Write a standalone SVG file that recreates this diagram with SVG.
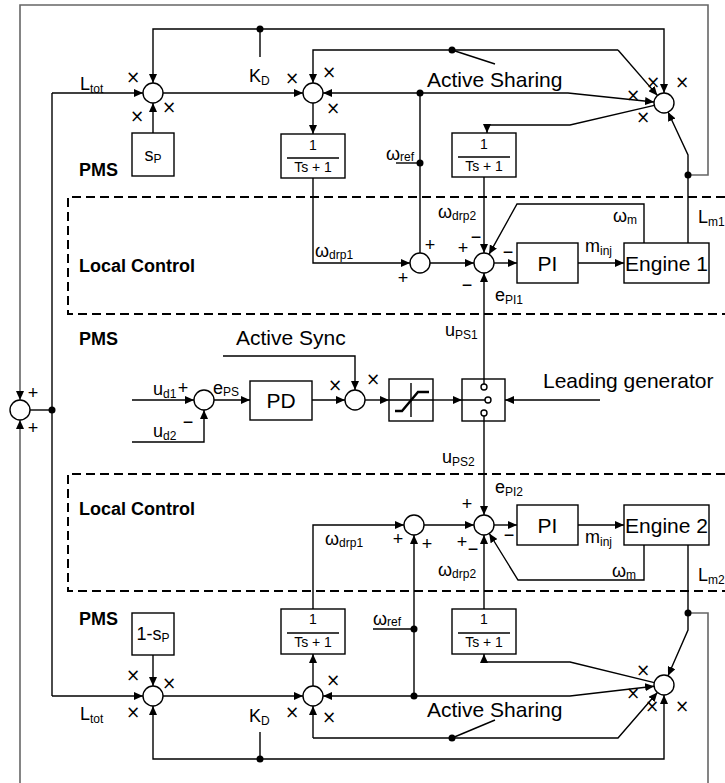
<svg xmlns="http://www.w3.org/2000/svg" width="725" height="783" viewBox="0 0 725 783">
<defs>
<marker id="ar" markerUnits="userSpaceOnUse" markerWidth="10" markerHeight="8" refX="9" refY="4" orient="auto"><path d="M0,0 L9,4 L0,8 z" fill="#000"/></marker>
<style>
.w{fill:none;stroke:#000;stroke-width:1.4}
.g{fill:none;stroke:#666;stroke-width:1.6}
.a{marker-end:url(#ar)}
.d{fill:none;stroke:#000;stroke-width:2;stroke-dasharray:9 5}
.b{fill:#fff;stroke:#000;stroke-width:1.4}
.s{fill:#fff;stroke:#000;stroke-width:1.4}
.t{font-family:"Liberation Sans",Arial,sans-serif;font-size:18px;fill:#000}
.L{font-family:"Liberation Sans",Arial,sans-serif;font-size:21px;fill:#000}
.f{font-family:"Liberation Sans",Arial,sans-serif;font-size:14px;fill:#000}
.B{font-family:"Liberation Sans",Arial,sans-serif;font-size:18px;font-weight:bold;fill:#000}
.x{font-family:"Liberation Sans",Arial,sans-serif;font-size:18px;fill:#000;text-anchor:middle}
.k{font-family:"DejaVu Sans",sans-serif;font-size:17px;fill:#000;text-anchor:middle}
.m{text-anchor:middle}
.dot{fill:#000}
</style>
</defs>
<rect width="725" height="783" fill="#fff"/>

<g id="regions">
<path class="d" d="M725,197 H68 V314 H725"/>
<path class="d" d="M725,474 H68 V591 H725"/>
<text class="B" x="79" y="176">PMS</text>
<text class="B" x="79" y="272">Local Control</text>
<text class="B" x="79" y="345">PMS</text>
<text class="B" x="79" y="515">Local Control</text>
<text class="B" x="79" y="625">PMS</text>
</g>

<g id="connectors">
<path class="g a" d="M687,175 H708 V5 H20 V400"/>
<path class="g" d="M687,613 H708 V783"/>
<path class="g a" d="M20,783 V420"/>
<path class="w" d="M30,410 H52"/>
<path class="w" d="M52,93 V696"/>
<path class="w a" d="M52,93 H143"/>
<path class="w a" d="M52,696 H143"/>
<!-- upper PMS -->
<path class="w a" d="M260,29 H153 V83"/>
<path class="w a" d="M260,29 H664 V93"/>
<path class="w" d="M260,29 V57"/>
<path class="w a" d="M163,93 H303"/>
<path class="w a" d="M153,133 V103"/>
<path class="w a" d="M313,103 V134"/>
<path class="w a" d="M618,50 H313 V83"/>
<path class="w a" d="M618,50 L657.4,95.4"/>
<path class="w a" d="M420,93 H323"/>
<path class="w a" d="M420,93 H568 L654,102"/>
<path class="w" d="M452,50 L495,64"/>
<path class="w" d="M420,93 V253"/>
<path class="w" d="M396,163 H420"/>
<path class="w a" d="M654.3,105.4 L570,125 H487 V133"/>
<path class="w a" d="M688,243 V155 L668,112"/>
<!-- upper local -->
<path class="w a" d="M313,178 V263 H410"/>
<path class="w a" d="M430,263 H474"/>
<path class="w a" d="M484,177 V253"/>
<path class="w a" d="M644,243 V204 H517 L489,254.3"/>
<path class="w a" d="M494,263 H517"/>
<path class="w a" d="M578,263 H624"/>
<path class="w a" d="M484,384 V273"/>
<!-- sync -->
<path class="w a" d="M223,356 H355 V390"/>
<path class="w a" d="M132,400 H194"/>
<path class="w a" d="M132,442 H204 V410"/>
<path class="w a" d="M214,400 H250"/>
<path class="w a" d="M312,400 H345"/>
<path class="w a" d="M365,400 H389"/>
<path class="w a" d="M433,400 H462"/>
<path class="w" d="M389,400 H433"/>
<path class="w" d="M462,400 H485"/>
<path class="w a" d="M600,400 H505"/>
<path class="w a" d="M484,416 V515"/>
<!-- lower local -->
<path class="w a" d="M313,609 V525 H404"/>
<path class="w a" d="M424,525 H474"/>
<path class="w a" d="M414,696 V535"/>
<path class="w" d="M373,629 H414"/>
<path class="w a" d="M484,609 V535"/>
<path class="w a" d="M644,545 V580 H518 L489.3,533.5"/>
<path class="w a" d="M494,525 H517"/>
<path class="w a" d="M578,525 H624"/>
<path class="w a" d="M688,545 V630 L668,675.8"/>
<!-- lower PMS -->
<path class="w a" d="M654.3,682.6 L570,662 H484 V654"/>
<path class="w a" d="M414,696 H323"/>
<path class="w a" d="M414,696 H570 L654.1,686.2"/>
<path class="w a" d="M313,738 V706"/>
<path class="w a" d="M313,738 H618 L657.4,692.5"/>
<path class="w" d="M452,738 L495,720"/>
<path class="w a" d="M260,759 H153 V706"/>
<path class="w a" d="M260,759 H664 V695"/>
<path class="w" d="M260,759 V732"/>
<path class="w a" d="M163,696 H303"/>
<path class="w a" d="M153,655 V686"/>
<path class="w a" d="M313,686 V654"/>
<!-- dots -->
<circle class="dot" cx="52" cy="410" r="3.5"/>
<circle class="dot" cx="260" cy="29" r="3.5"/>
<circle class="dot" cx="452" cy="50" r="3.5"/>
<circle class="dot" cx="420" cy="93" r="3.5"/>
<circle class="dot" cx="420" cy="163" r="3.5"/>
<circle class="dot" cx="688" cy="175" r="3.5"/>
<circle class="dot" cx="688" cy="613" r="3.5"/>
<circle class="dot" cx="414" cy="629" r="3.5"/>
<circle class="dot" cx="414" cy="696" r="3.5"/>
<circle class="dot" cx="452" cy="738" r="3.5"/>
<circle class="dot" cx="260" cy="759" r="3.5"/>
</g>

<g id="labels">
<text class="t" x="80" y="90">L<tspan font-size="12" dy="3">tot</tspan></text>
<text class="t" x="80" y="720">L<tspan font-size="12" dy="3">tot</tspan></text>
<text class="t" x="249" y="82">K<tspan font-size="12" dy="3">D</tspan></text>
<text class="t" x="249" y="722">K<tspan font-size="12" dy="3">D</tspan></text>
<text class="L" x="427" y="87">Active Sharing</text>
<text class="L" x="427" y="717">Active Sharing</text>
<text class="t" x="386" y="160">ω<tspan font-size="12" dy="1">ref</tspan></text>
<text class="t" x="373" y="625">ω<tspan font-size="12" dy="1">ref</tspan></text>
<text class="t" x="315" y="257">ω<tspan font-size="12" dy="2">drp1</tspan></text>
<text class="t" x="325" y="545">ω<tspan font-size="12" dy="2">drp1</tspan></text>
<text class="t" x="438" y="218">ω<tspan font-size="12" dy="2">drp2</tspan></text>
<text class="t" x="438" y="576">ω<tspan font-size="12" dy="2">drp2</tspan></text>
<text class="t" x="613" y="222">ω<tspan font-size="12" dy="2">m</tspan></text>
<text class="t" x="612" y="577">ω<tspan font-size="12" dy="2">m</tspan></text>
<text class="t" x="698" y="223">L<tspan font-size="12" dy="3">m1</tspan></text>
<text class="t" x="698" y="581">L<tspan font-size="12" dy="3">m2</tspan></text>
<text class="t" x="585" y="252">m<tspan font-size="12" dy="3">inj</tspan></text>
<text class="t" x="585" y="543">m<tspan font-size="12" dy="3">inj</tspan></text>
<text class="t" x="495" y="301">e<tspan font-size="12" dy="3">PI1</tspan></text>
<text class="t" x="495" y="493">e<tspan font-size="12" dy="3">PI2</tspan></text>
<text class="t" x="445" y="336">u<tspan font-size="12" dy="3">PS1</tspan></text>
<text class="t" x="442" y="463">u<tspan font-size="12" dy="3">PS2</tspan></text>
<text class="t" x="153" y="395">u<tspan font-size="12" dy="3">d1</tspan></text>
<text class="t" x="153" y="437">u<tspan font-size="12" dy="3">d2</tspan></text>
<text class="t" x="213" y="394">e<tspan font-size="12" dy="2">PS</tspan></text>
<text class="L" x="236" y="345">Active Sync</text>
<text class="L" x="543" y="388">Leading generator</text>
<!-- signs -->
<text class="x" x="33" y="399">+</text>
<text class="x" x="33" y="434">+</text>
<text class="x" x="183" y="394">+</text>
<text class="x" x="188" y="428">−</text>
<text class="x" x="430" y="251">+</text>
<text class="x" x="403" y="284">+</text>
<text class="x" x="463" y="254">+</text>
<text class="x" x="476" y="243">−</text>
<text class="x" x="508" y="258">−</text>
<text class="x" x="467" y="291">−</text>
<text class="x" x="467" y="510">+</text>
<text class="x" x="398" y="545">+</text>
<text class="x" x="427" y="550">+</text>
<text class="x" x="462" y="548">+</text>
<text class="x" x="473" y="555">−</text>
<text class="x" x="509" y="541">−</text>
<!-- multipliers -->
<text class="k" x="133" y="83">×</text>
<text class="k" x="137" y="122">×</text>
<text class="k" x="169" y="113">×</text>
<text class="k" x="292" y="84">×</text>
<text class="k" x="329" y="78">×</text>
<text class="k" x="333" y="114">×</text>
<text class="k" x="653" y="88">×</text>
<text class="k" x="682" y="88">×</text>
<text class="k" x="633" y="101">×</text>
<text class="k" x="643" y="123">×</text>
<text class="k" x="335" y="391">×</text>
<text class="k" x="373" y="385">×</text>
<text class="k" x="133" y="681">×</text>
<text class="k" x="169" y="689">×</text>
<text class="k" x="133" y="718">×</text>
<text class="k" x="292" y="718">×</text>
<text class="k" x="333" y="686">×</text>
<text class="k" x="329" y="723">×</text>
<text class="k" x="643" y="676">×</text>
<text class="k" x="633" y="699">×</text>
<text class="k" x="652" y="712">×</text>
<text class="k" x="682" y="712">×</text>
</g>

<g id="S0"><circle class="s" cx="20" cy="410" r="10"/></g>
<g id="S1"><circle class="s" cx="153" cy="93" r="10"/></g>
<g id="S2"><circle class="s" cx="313" cy="93" r="10"/></g>
<g id="S3"><circle class="s" cx="664" cy="103" r="10"/></g>
<g id="S4"><circle class="s" cx="420" cy="263" r="10"/></g>
<g id="S5"><circle class="s" cx="484" cy="263" r="10"/></g>
<g id="S6"><circle class="s" cx="355" cy="400" r="10"/></g>
<g id="S7"><circle class="s" cx="204" cy="400" r="10"/></g>
<g id="S8"><circle class="s" cx="484" cy="525" r="10"/></g>
<g id="S9"><circle class="s" cx="414" cy="525" r="10"/></g>
<g id="S10"><circle class="s" cx="664" cy="685" r="10"/></g>
<g id="S11"><circle class="s" cx="153" cy="696" r="10"/></g>
<g id="S12"><circle class="s" cx="313" cy="696" r="10"/></g>

<g id="sP"><rect class="b" x="132" y="133" width="42" height="43"/><text class="t m" x="153" y="161">s<tspan font-size="12" dy="2">P</tspan></text></g>
<g id="oneMinusSP"><rect class="b" x="132" y="613" width="42" height="42"/><text class="t m" x="153" y="640">1-s<tspan font-size="12" dy="2">P</tspan></text></g>
<g id="F1"><rect class="b" x="281" y="134" width="64" height="44"/><text class="f m" x="313" y="150">1</text><path class="w" d="M287,158 H339"/><text class="f m" x="313" y="172">Ts + 1</text></g>
<g id="F2"><rect class="b" x="452" y="133" width="64" height="44"/><text class="f m" x="484" y="149">1</text><path class="w" d="M458,157 H510"/><text class="f m" x="484" y="171">Ts + 1</text></g>
<g id="F3"><rect class="b" x="281" y="609" width="64" height="45"/><text class="f m" x="313" y="624">1</text><path class="w" d="M287,633 H339"/><text class="f m" x="313" y="647">Ts + 1</text></g>
<g id="F4"><rect class="b" x="452" y="609" width="64" height="45"/><text class="f m" x="484" y="624">1</text><path class="w" d="M458,633 H510"/><text class="f m" x="484" y="647">Ts + 1</text></g>
<g id="PI1"><rect class="b" x="517" y="243" width="61" height="40"/><text class="L m" x="547.5" y="271">PI</text></g>
<g id="Engine1"><rect class="b" x="624" y="243" width="85" height="40"/><text class="L m" x="666.5" y="271">Engine 1</text></g>
<g id="PI2"><rect class="b" x="517" y="505" width="61" height="40"/><text class="L m" x="547.5" y="533">PI</text></g>
<g id="Engine2"><rect class="b" x="624" y="505" width="85" height="40"/><text class="L m" x="666.5" y="533">Engine 2</text></g>
<g id="PD"><rect class="b" x="250" y="381" width="62" height="39"/><text class="L m" x="281" y="408">PD</text></g>
<g id="Saturation"><rect class="b" x="389" y="379" width="44" height="42"/><path class="w" d="M389,400 H433 M411,383 V417"/><path fill="none" stroke="#000" stroke-width="2.4" d="M395,411 H402 L418,392 H429"/></g>
<g id="Switch"><rect class="b" x="462" y="379" width="43" height="42"/><path class="w" d="M462,400 H485 M484,379 V384 M484,416 V421"/><circle class="s" cx="484" cy="387" r="3" stroke-width="1.2"/><circle class="s" cx="488" cy="400" r="3" stroke-width="1.2"/><circle class="s" cx="484" cy="413" r="3" stroke-width="1.2"/></g>
</svg>
